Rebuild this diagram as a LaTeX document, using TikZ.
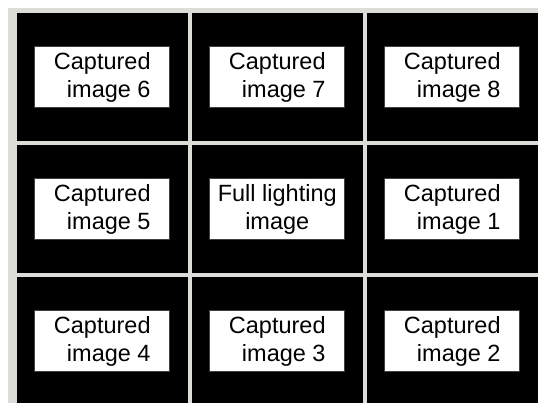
\documentclass[tikz,border=0pt]{standalone}
\usepackage{fontspec}
\setmainfont{Liberation Sans}
\usepackage{tikz}
\usetikzlibrary{positioning}
\definecolor{gapgrey}{RGB}{221,221,216}
\definecolor{edgegrey}{RGB}{70,62,62}

\begin{document}
\begin{tikzpicture}[
    x=1pt,
    y=-1pt
]

\tikzset{
    cell/.style={
        fill=black,
        minimum width=170.5pt,
        minimum height=128pt,
        inner sep=0pt,
        outer sep=0pt
    },
    b/.style={
        draw=edgegrey,
        line width=0.8pt,
        fill=white,
        minimum width=135pt,
        minimum height=61pt,
        inner sep=0pt,
        align=right,
        font=\fontsize{23.5}{28}\selectfont
    }
}

\useasboundingbox (0,0) rectangle (538,403);
\clip (0,0) rectangle (538,403);

% background
\fill[white] (0,0) rectangle (538,403);
\fill[gapgrey] (8,8) rectangle (538,403);

% black cells
\node[cell, anchor=north west] (c6) at (17,13) {};
\node[cell, right=4.5pt of c6] (c7) {};
\node[cell, right=4.5pt of c7] (c8) {};
\node[cell, below=4pt of c6] (c5) {};
\node[cell, below=4pt of c7] (cfull) {};
\node[cell, below=4pt of c8] (c1) {};
\node[cell, below=4pt of c5] (c4) {};
\node[cell, below=4pt of cfull] (c3) {};
\node[cell, below=4pt of c1] (c2) {};

% labels
\node[b] (img6) at (c6) {Captured\\image 6};
\node[b] (img7) at (c7) {Captured\\image 7};
\node[b] (img8) at (c8) {Captured\\image 8};
\node[b] (img5) at (c5) {Captured\\image 5};
\node[b, align=center] (full) at (cfull) {Full lighting\\image};
\node[b] (img1) at (c1) {Captured\\image 1};
\node[b] (img4) at (c4) {Captured\\image 4};
\node[b] (img3) at (c3) {Captured\\image 3};
\node[b] (img2) at (c2) {Captured\\image 2};

\end{tikzpicture}
\end{document}
